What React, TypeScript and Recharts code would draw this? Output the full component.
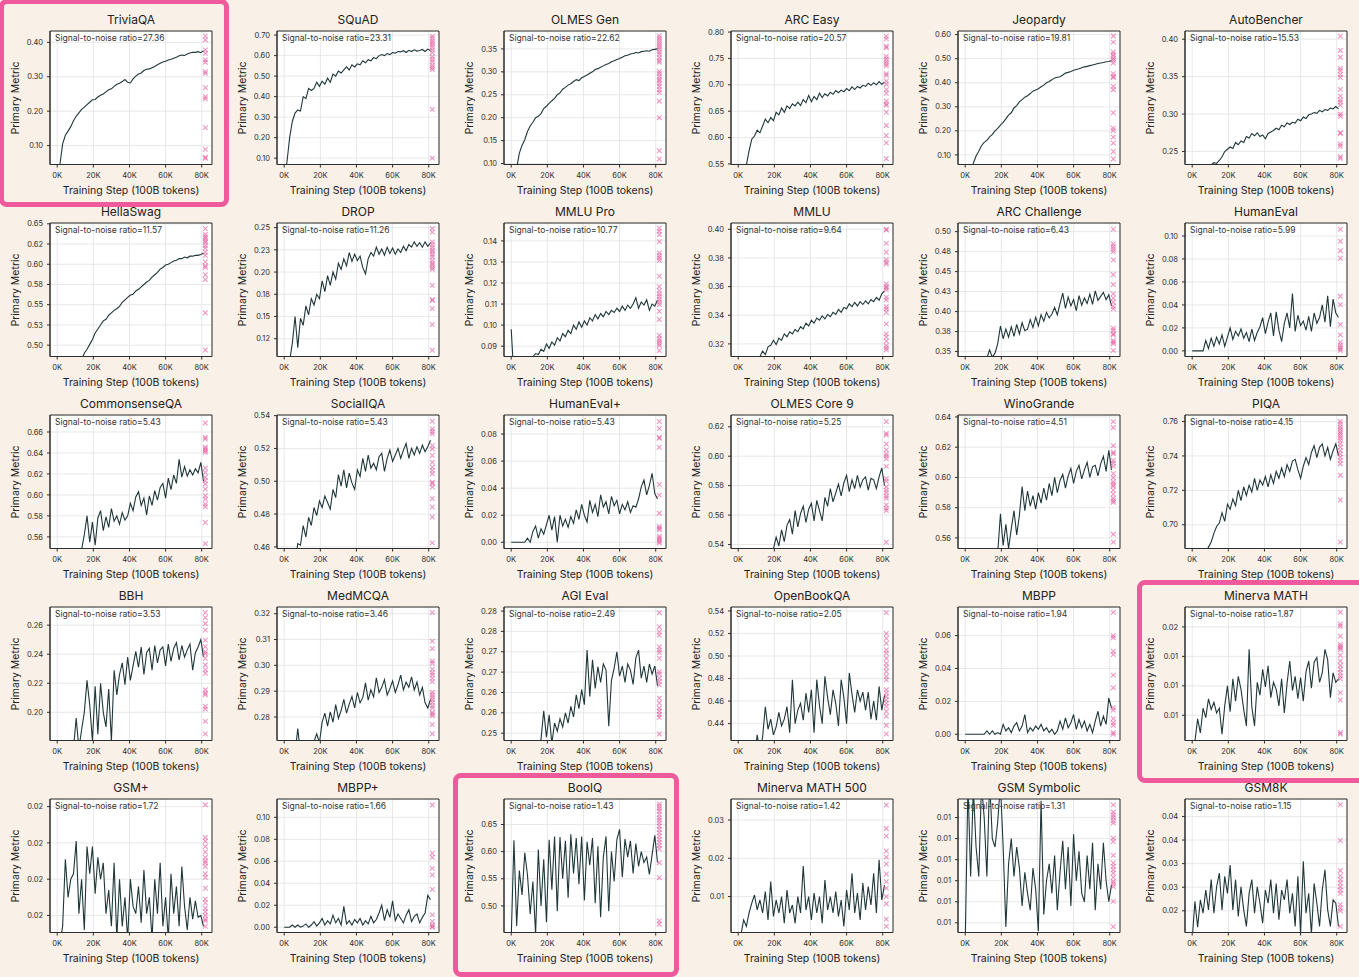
import React from 'react';
import { ComposedChart, Line, Scatter, XAxis, YAxis, CartesianGrid, ReferenceArea } from 'recharts';

// ---------- shared x data ----------
const STEPS = [
  0, 1500, 3000, 4500, 6000, 7500, 9000, 10500, 12000, 13500,
  15000, 16500, 18000, 19500, 21000, 22500, 24000, 25500, 27000, 28500,
  30000, 31500, 33000, 34500, 36000, 37500, 39000, 40500, 42000, 43500,
  45000, 46500, 48000, 49500, 51000, 52500, 54000, 55500, 57000, 58500,
  60000, 61500, 63000, 64500, 66000, 67500, 69000, 70500, 72000, 73500,
  75000, 76500, 78000, 79500, 81000,
];
const MARKER_STEP = 82000;
const X_TICKS = [0, 20000, 40000, 60000, 80000];
const X_TICK_LABELS = ['0K', '20K', '40K', '60K', '80K'];
const X_DOMAIN: [number, number] = [-4000, 85700];

// ---------- per-benchmark data ----------
const triviaQA = [
  0.0, 0.045, 0.105, 0.13, 0.142, 0.155, 0.172, 0.185, 0.195, 0.205,
  0.212, 0.219, 0.226, 0.233, 0.234, 0.241, 0.246, 0.25, 0.256, 0.262,
  0.265, 0.272, 0.278, 0.281, 0.286, 0.292, 0.284, 0.282, 0.294, 0.302,
  0.308, 0.311, 0.318, 0.322, 0.323, 0.326, 0.33, 0.335, 0.339, 0.343,
  0.345, 0.349, 0.351, 0.354, 0.357, 0.361, 0.363, 0.362, 0.366, 0.369,
  0.371, 0.371, 0.373, 0.37, 0.376,
];
const triviaQAMarks = [0.418, 0.407, 0.378, 0.368, 0.349, 0.342, 0.315, 0.31, 0.268, 0.242, 0.236, 0.152, 0.089, 0.066, 0.063];
const triviaQATicks = [0.1, 0.2, 0.3, 0.4];
const triviaQALabels = ['0.10', '0.20', '0.30', '0.40'];

const squad = [
  0.0, 0.08, 0.2, 0.28, 0.32, 0.335, 0.33, 0.4, 0.39, 0.44,
  0.43, 0.44, 0.47, 0.45, 0.475, 0.46, 0.49, 0.47, 0.51, 0.5,
  0.525, 0.515, 0.53, 0.545, 0.53, 0.555, 0.545, 0.56, 0.555, 0.575,
  0.565, 0.58, 0.575, 0.59, 0.585, 0.6, 0.605, 0.6, 0.61, 0.605,
  0.615, 0.612, 0.62, 0.618, 0.624, 0.615, 0.626, 0.62, 0.628, 0.622,
  0.625, 0.63, 0.62, 0.632, 0.625,
];
const squadMarks = [0.695, 0.684, 0.672, 0.662, 0.651, 0.64, 0.627, 0.614, 0.594, 0.581, 0.569, 0.553, 0.542, 0.532, 0.338, 0.1];
const squadTicks = [0.1, 0.2, 0.3, 0.4, 0.5, 0.6, 0.7];
const squadLabels = ['0.10', '0.20', '0.30', '0.40', '0.50', '0.60', '0.70'];

const olmesGen = [
  0.05, 0.07, 0.09, 0.123, 0.14, 0.152, 0.17, 0.182, 0.19, 0.2,
  0.203, 0.209, 0.22, 0.225, 0.231, 0.237, 0.242, 0.25, 0.254, 0.262,
  0.266, 0.271, 0.274, 0.279, 0.283, 0.281, 0.287, 0.29, 0.293, 0.297,
  0.3, 0.305, 0.307, 0.31, 0.313, 0.316, 0.318, 0.322, 0.324, 0.327,
  0.329, 0.332, 0.335, 0.336, 0.339, 0.34, 0.342, 0.341, 0.344, 0.345,
  0.346, 0.345, 0.348, 0.349, 0.35,
];
const olmesGenMarks = [0.379, 0.374, 0.369, 0.364, 0.359, 0.354, 0.349, 0.343, 0.338, 0.331, 0.325, 0.321, 0.301, 0.296, 0.29, 0.284, 0.28, 0.274, 0.268, 0.261, 0.255, 0.236, 0.2, 0.128, 0.11];
const olmesGenTicks = [0.1, 0.15, 0.2, 0.25, 0.3, 0.35];
const olmesGenLabels = ['0.10', '0.15', '0.20', '0.25', '0.30', '0.35'];

const arcEasy = [
  0.5, 0.51, 0.53, 0.548, 0.575, 0.597, 0.603, 0.614, 0.609, 0.622,
  0.635, 0.628, 0.638, 0.632, 0.648, 0.643, 0.656, 0.648, 0.66, 0.655,
  0.664, 0.66, 0.667, 0.661, 0.672, 0.666, 0.68, 0.668, 0.678, 0.672,
  0.684, 0.676, 0.683, 0.679, 0.686, 0.682, 0.689, 0.685, 0.69, 0.687,
  0.693, 0.689, 0.696, 0.691, 0.697, 0.694, 0.699, 0.697, 0.703, 0.699,
  0.704, 0.7, 0.706, 0.701, 0.705,
];
const arcEasyMarks = [0.792, 0.787, 0.773, 0.77, 0.754, 0.749, 0.744, 0.74, 0.736, 0.721, 0.718, 0.707, 0.701, 0.691, 0.684, 0.669, 0.664, 0.661, 0.648, 0.623, 0.604, 0.59, 0.56];
const arcEasyTicks = [0.55, 0.6, 0.65, 0.7, 0.75, 0.8];
const arcEasyLabels = ['0.55', '0.60', '0.65', '0.70', '0.75', '0.80'];

const jeopardy = [
  0.0, 0.02, 0.04, 0.065, 0.095, 0.115, 0.138, 0.152, 0.16, 0.175,
  0.185, 0.2, 0.21, 0.224, 0.235, 0.25, 0.265, 0.275, 0.295, 0.305,
  0.32, 0.33, 0.34, 0.346, 0.355, 0.365, 0.37, 0.375, 0.383, 0.39,
  0.4, 0.405, 0.412, 0.42, 0.423, 0.425, 0.432, 0.44, 0.443, 0.447,
  0.452, 0.455, 0.458, 0.462, 0.466, 0.468, 0.471, 0.474, 0.477, 0.48,
  0.482, 0.484, 0.487, 0.488, 0.492,
];
const jeopardyMarks = [0.594, 0.569, 0.528, 0.518, 0.51, 0.5, 0.493, 0.482, 0.438, 0.426, 0.421, 0.385, 0.371, 0.275, 0.211, 0.201, 0.174, 0.149, 0.114, 0.083];
const jeopardyTicks = [0.1, 0.2, 0.3, 0.4, 0.5, 0.6];
const jeopardyLabels = ['0.10', '0.20', '0.30', '0.40', '0.50', '0.60'];

const autoBencher = [
  0.2, 0.205, 0.21, 0.215, 0.22, 0.225, 0.228, 0.232, 0.235, 0.234,
  0.238, 0.243, 0.25, 0.253, 0.256, 0.254, 0.262, 0.259, 0.264, 0.262,
  0.27, 0.268, 0.274, 0.271, 0.275, 0.27, 0.272, 0.267, 0.274, 0.276,
  0.278, 0.281, 0.279, 0.285, 0.283, 0.288, 0.286, 0.289, 0.288, 0.293,
  0.291, 0.296, 0.294, 0.299, 0.3, 0.302, 0.301, 0.305, 0.303, 0.306,
  0.305, 0.308, 0.307, 0.31, 0.307,
];
const autoBencherMarks = [0.404, 0.385, 0.376, 0.361, 0.358, 0.353, 0.349, 0.333, 0.324, 0.319, 0.316, 0.312, 0.3, 0.297, 0.275, 0.274, 0.26, 0.257, 0.243, 0.241];
const autoBencherTicks = [0.25, 0.3, 0.35, 0.4];
const autoBencherLabels = ['0.25', '0.30', '0.35', '0.40'];

const hellaSwag = [
  0.4, 0.41, 0.42, 0.43, 0.44, 0.45, 0.46, 0.47, 0.475, 0.482,
  0.49, 0.495, 0.501, 0.507, 0.515, 0.52, 0.525, 0.53, 0.532, 0.537,
  0.54, 0.543, 0.545, 0.548, 0.553, 0.556, 0.559, 0.562, 0.563, 0.567,
  0.569, 0.572, 0.575, 0.578, 0.58, 0.584, 0.587, 0.59, 0.594, 0.596,
  0.599, 0.6, 0.602, 0.604, 0.605, 0.607, 0.607, 0.609, 0.608, 0.61,
  0.61, 0.611, 0.611, 0.612, 0.614,
];
const hellaSwagMarks = [0.644, 0.637, 0.634, 0.632, 0.629, 0.627, 0.623, 0.62, 0.615, 0.611, 0.603, 0.598, 0.596, 0.587, 0.581, 0.54, 0.494];
const hellaSwagTicks = [0.5, 0.525, 0.55, 0.575, 0.6, 0.625, 0.65];
const hellaSwagLabels = ['0.50', '0.53', '0.55', '0.58', '0.60', '0.62', '0.65'];

const drop = [
  0.08, 0.09, 0.1, 0.12, 0.15, 0.115, 0.148, 0.14, 0.162, 0.152,
  0.17, 0.163, 0.175, 0.17, 0.19, 0.178, 0.196, 0.185, 0.2, 0.192,
  0.21, 0.203, 0.215, 0.207, 0.222, 0.212, 0.22, 0.213, 0.218, 0.205,
  0.198, 0.215, 0.222, 0.218, 0.228, 0.22, 0.226, 0.219, 0.228, 0.221,
  0.227, 0.22, 0.226, 0.222, 0.229, 0.224, 0.231, 0.228, 0.234, 0.229,
  0.233, 0.228, 0.234, 0.229, 0.233,
];
const dropMarks = [0.249, 0.245, 0.234, 0.231, 0.228, 0.225, 0.223, 0.22, 0.217, 0.213, 0.21, 0.208, 0.205, 0.203, 0.185, 0.169, 0.168, 0.159, 0.141, 0.112];
const dropTicks = [0.125, 0.15, 0.175, 0.2, 0.225, 0.25];
const dropLabels = ['0.12', '0.15', '0.18', '0.20', '0.23', '0.25'];

const mmluPro = [
  0.098, 0.075, 0.076, 0.077, 0.078, 0.079, 0.08, 0.082, 0.085, 0.0865,
  0.086, 0.0885, 0.0875, 0.091, 0.089, 0.092, 0.0905, 0.094, 0.0925, 0.096,
  0.0945, 0.0975, 0.096, 0.1, 0.098, 0.1015, 0.099, 0.102, 0.1, 0.1035,
  0.102, 0.105, 0.103, 0.1055, 0.104, 0.1065, 0.105, 0.107, 0.106, 0.108,
  0.1065, 0.109, 0.107, 0.1095, 0.108, 0.11, 0.113, 0.108, 0.111, 0.1095,
  0.112, 0.107, 0.11, 0.109, 0.112,
];
const mmluProMarks = [0.146, 0.1446, 0.143, 0.1397, 0.1343, 0.133, 0.1319, 0.1307, 0.1232, 0.1183, 0.1164, 0.1148, 0.1136, 0.1122, 0.1109, 0.1098, 0.1066, 0.1027, 0.0951, 0.0935, 0.0924, 0.0914, 0.0903, 0.0879];
const mmluProTicks = [0.09, 0.1, 0.11, 0.12, 0.13, 0.14];
const mmluProLabels = ['0.09', '0.10', '0.11', '0.12', '0.13', '0.14'];

const mmlu = [
  0.29, 0.292, 0.294, 0.296, 0.298, 0.3, 0.303, 0.306, 0.311, 0.315,
  0.3125, 0.318, 0.319, 0.3225, 0.3195, 0.324, 0.3225, 0.327, 0.325, 0.3285,
  0.327, 0.33, 0.3285, 0.332, 0.3305, 0.3345, 0.3325, 0.3365, 0.3345, 0.338,
  0.3365, 0.3395, 0.3375, 0.3405, 0.339, 0.342, 0.3405, 0.344, 0.342, 0.3455,
  0.3445, 0.348, 0.346, 0.349, 0.3465, 0.3495, 0.3475, 0.35, 0.348, 0.351,
  0.3495, 0.3525, 0.3505, 0.355, 0.357,
];
const mmluMarks = [0.4, 0.3995, 0.3902, 0.384, 0.3788, 0.377, 0.3758, 0.3619, 0.36, 0.3591, 0.3577, 0.3526, 0.3507, 0.346, 0.3444, 0.3421, 0.334, 0.327, 0.3247, 0.3219, 0.3188, 0.3172, 0.3158];
const mmluTicks = [0.32, 0.34, 0.36, 0.38, 0.4];
const mmluLabels = ['0.32', '0.34', '0.36', '0.38', '0.40'];

const arcChallenge = [
  0.3, 0.305, 0.31, 0.315, 0.32, 0.325, 0.33, 0.335, 0.342, 0.352,
  0.343, 0.348, 0.36, 0.382, 0.366, 0.378, 0.368, 0.381, 0.369, 0.384,
  0.372, 0.386, 0.376, 0.378, 0.39, 0.38, 0.393, 0.382, 0.396, 0.388,
  0.399, 0.392, 0.397, 0.405, 0.396, 0.41, 0.423, 0.404, 0.418, 0.407,
  0.415, 0.401, 0.42, 0.408, 0.417, 0.41, 0.422, 0.409, 0.426, 0.414,
  0.419, 0.424, 0.415, 0.421, 0.407,
];
const arcChallengeMarks = [0.503, 0.4846, 0.4813, 0.4783, 0.475, 0.4646, 0.4463, 0.4338, 0.4221, 0.4167, 0.4117, 0.4067, 0.4033, 0.3792, 0.3763, 0.3721, 0.3708, 0.3638, 0.3617, 0.3596, 0.3513];
const arcChallengeTicks = [0.35, 0.375, 0.4, 0.425, 0.45, 0.475, 0.5];
const arcChallengeLabels = ['0.35', '0.38', '0.40', '0.43', '0.45', '0.48', '0.50'];

const humanEval = [
  0, 0, 0, 0, 0, 0.009, 0.002, 0.011, 0.004, 0.012,
  0.006, 0.014, 0.004, 0.012, 0.02, 0.01, 0.017, 0.013, 0.019, 0.011,
  0.016, 0.008, 0.019, 0.009, 0.016, 0.021, 0.029, 0.015, 0.025, 0.033,
  0.013, 0.034, 0.018, 0.008, 0.024, 0.033, 0.02, 0.05, 0.017, 0.031,
  0.022, 0.026, 0.018, 0.03, 0.017, 0.033, 0.024, 0.029, 0.04, 0.025,
  0.048, 0.021, 0.045, 0.033, 0.029,
];
const humanEvalMarks = [0.1058, 0.0954, 0.0872, 0.0806, 0.0475, 0.0403, 0.0229, 0.0139, 0.0075, 0.0052, 0.0032, 0.0017, 0.0003];
const humanEvalTicks = [0, 0.02, 0.04, 0.06, 0.08, 0.1];
const humanEvalLabels = ['0.00', '0.02', '0.04', '0.06', '0.08', '0.10'];

const commonsenseQA = [
  0.5, 0.505, 0.51, 0.515, 0.52, 0.525, 0.53, 0.535, 0.54, 0.548,
  0.562, 0.58, 0.555, 0.574, 0.552, 0.578, 0.585, 0.566, 0.579, 0.569,
  0.587, 0.575, 0.58, 0.572, 0.583, 0.576, 0.58, 0.592, 0.585, 0.598,
  0.603, 0.59, 0.597, 0.581, 0.599, 0.59, 0.604, 0.595, 0.607, 0.611,
  0.597, 0.616, 0.605, 0.619, 0.611, 0.634, 0.617, 0.627, 0.618, 0.624,
  0.619, 0.625, 0.621, 0.631, 0.613,
];
const commonsenseQAMarks = [0.6686, 0.6549, 0.6533, 0.6454, 0.6438, 0.6422, 0.6406, 0.6256, 0.6215, 0.6167, 0.6135, 0.6104, 0.6055, 0.5992, 0.596, 0.5912, 0.5887, 0.5737, 0.5536];
const commonsenseQATicks = [0.56, 0.58, 0.6, 0.62, 0.64, 0.66];
const commonsenseQALabels = ['0.56', '0.58', '0.60', '0.62', '0.64', '0.66'];

const socialIQA = [
  0.44, 0.442, 0.444, 0.446, 0.45, 0.462, 0.461, 0.473, 0.466, 0.478,
  0.473, 0.484, 0.479, 0.488, 0.484, 0.491, 0.487, 0.483, 0.495, 0.49,
  0.504, 0.497, 0.507, 0.496, 0.505, 0.499, 0.495, 0.507, 0.503, 0.514,
  0.506, 0.516, 0.508, 0.511, 0.507, 0.515, 0.517, 0.506, 0.514, 0.519,
  0.512, 0.516, 0.52, 0.514, 0.519, 0.523, 0.514, 0.52, 0.516, 0.521,
  0.517, 0.522, 0.518, 0.521, 0.525,
];
const socialIQAMarks = [0.5366, 0.5319, 0.5303, 0.5289, 0.5218, 0.5197, 0.5157, 0.5116, 0.5086, 0.5066, 0.5046, 0.4995, 0.4985, 0.4965, 0.4894, 0.4843, 0.4782, 0.4624];
const socialIQATicks = [0.46, 0.48, 0.5, 0.52, 0.54];
const socialIQALabels = ['0.46', '0.48', '0.50', '0.52', '0.54'];

const humanEvalPlus = [
  0, 0, 0, 0, 0, 0, 0.003, 0, 0.008, 0.012,
  0.003, 0.01, 0.006, 0.013, 0.02, 0.009, 0.019, 0.0, 0.02, 0.012,
  0.017, 0.011, 0.019, 0.014, 0.024, 0.017, 0.028, 0.02, 0.015, 0.031,
  0.022, 0.028, 0.019, 0.035, 0.026, 0.03, 0.021, 0.034, 0.027, 0.031,
  0.021, 0.028, 0.024, 0.03, 0.022, 0.027, 0.026, 0.032, 0.041, 0.046,
  0.035, 0.042, 0.051, 0.036, 0.032,
];
const humanEvalPlusMarks = [0.0893, 0.0841, 0.0776, 0.0768, 0.0702, 0.0427, 0.0349, 0.0215, 0.0117, 0.0105, 0.0093, 0.0044, 0.0032, 0.002, 0.0007, -0.0005];
const humanEvalPlusTicks = [0, 0.02, 0.04, 0.06, 0.08];
const humanEvalPlusLabels = ['0.00', '0.02', '0.04', '0.06', '0.08'];

const olmesCore9 = [
  0.5, 0.502, 0.505, 0.507, 0.51, 0.512, 0.515, 0.518, 0.52, 0.523,
  0.526, 0.53, 0.532, 0.537, 0.545, 0.539, 0.55, 0.542, 0.553, 0.557,
  0.547, 0.563, 0.552, 0.561, 0.566, 0.555, 0.564, 0.568, 0.556, 0.57,
  0.563, 0.556, 0.572, 0.566, 0.578, 0.569, 0.575, 0.581, 0.573, 0.582,
  0.587, 0.576, 0.584, 0.578, 0.587, 0.579, 0.584, 0.586, 0.577, 0.585,
  0.584, 0.578, 0.586, 0.592, 0.58,
];
const olmesCore9Marks = [0.6236, 0.6155, 0.6144, 0.6083, 0.6043, 0.6016, 0.6001, 0.5983, 0.5931, 0.5848, 0.583, 0.5792, 0.577, 0.5752, 0.5729, 0.5714, 0.5669, 0.5646, 0.5631, 0.5416];
const olmesCore9Ticks = [0.54, 0.56, 0.58, 0.6, 0.62];
const olmesCore9Labels = ['0.54', '0.56', '0.58', '0.60', '0.62'];

const winoGrande = [
  0.5, 0.505, 0.51, 0.515, 0.52, 0.525, 0.53, 0.535, 0.54, 0.542,
  0.545, 0.548, 0.55, 0.576, 0.555, 0.569, 0.553, 0.566, 0.578, 0.562,
  0.575, 0.594, 0.578, 0.591, 0.581, 0.588, 0.579, 0.59, 0.583, 0.593,
  0.585, 0.596, 0.588, 0.6, 0.59, 0.598, 0.602, 0.593, 0.601, 0.606,
  0.596, 0.604, 0.608, 0.599, 0.605, 0.61, 0.6, 0.607, 0.608, 0.601,
  0.609, 0.614, 0.604, 0.618, 0.605,
];
const winoGrandeMarks = [0.6369, 0.633, 0.621, 0.6167, 0.6156, 0.6112, 0.6095, 0.6073, 0.6025, 0.5999, 0.5971, 0.5955, 0.5942, 0.5916, 0.589, 0.5862, 0.5846, 0.5835, 0.5624, 0.5572];
const winoGrandeTicks = [0.56, 0.58, 0.6, 0.62, 0.64];
const winoGrandeLabels = ['0.56', '0.58', '0.60', '0.62', '0.64'];

const piqa = [
  0.66, 0.665, 0.67, 0.675, 0.68, 0.684, 0.687, 0.69, 0.695, 0.699,
  0.701, 0.707, 0.702, 0.712, 0.709, 0.715, 0.711, 0.72, 0.714, 0.722,
  0.717, 0.723, 0.719, 0.727, 0.72, 0.726, 0.723, 0.728, 0.722, 0.729,
  0.724, 0.731, 0.727, 0.733, 0.728, 0.735, 0.731, 0.737, 0.738, 0.732,
  0.727, 0.734, 0.739, 0.735, 0.742, 0.746, 0.739, 0.745, 0.747, 0.74,
  0.745, 0.738, 0.743, 0.747, 0.74,
];
const piqaMarks = [0.76, 0.7585, 0.7569, 0.7556, 0.7542, 0.7531, 0.7518, 0.7504, 0.7489, 0.747, 0.7451, 0.7431, 0.7412, 0.7393, 0.7374, 0.7355, 0.7288, 0.7144, 0.6899];
const piqaTicks = [0.7, 0.72, 0.74, 0.76];
const piqaLabels = ['0.70', '0.72', '0.74', '0.76'];

const bbh = [
  0.17, 0.17, 0.17, 0.17, 0.17, 0.17, 0.175, 0.196, 0.175, 0.188,
  0.2, 0.222, 0.205, 0.18, 0.218, 0.185, 0.22, 0.2, 0.19, 0.216,
  0.18, 0.229, 0.212, 0.226, 0.234, 0.219, 0.238, 0.222, 0.232, 0.242,
  0.231, 0.245, 0.226, 0.241, 0.244, 0.229, 0.246, 0.234, 0.243, 0.245,
  0.232, 0.247, 0.235, 0.244, 0.248, 0.236, 0.246, 0.238, 0.243, 0.247,
  0.229, 0.241, 0.245, 0.25, 0.238,
];
const bbhMarks = [0.2687, 0.2652, 0.2611, 0.2566, 0.2497, 0.2452, 0.2417, 0.2402, 0.2372, 0.2326, 0.2292, 0.2269, 0.2155, 0.2132, 0.2121, 0.2041, 0.2023, 0.1938, 0.1852];
const bbhTicks = [0.2, 0.22, 0.24, 0.26];
const bbhLabels = ['0.20', '0.22', '0.24', '0.26'];

const medMCQA = [
  0.265, 0.265, 0.265, 0.265, 0.266, 0.2755, 0.266, 0.266, 0.267, 0.268,
  0.269, 0.2705, 0.2735, 0.27, 0.278, 0.2815, 0.2765, 0.282, 0.278, 0.2848,
  0.2795, 0.2825, 0.2868, 0.2815, 0.285, 0.288, 0.2835, 0.2895, 0.2855, 0.2875,
  0.2932, 0.2865, 0.2905, 0.2878, 0.2952, 0.2895, 0.2915, 0.2945, 0.2885, 0.291,
  0.294, 0.2895, 0.2925, 0.2962, 0.2905, 0.2935, 0.2915, 0.2955, 0.2905, 0.2935,
  0.2885, 0.2915, 0.2855, 0.2835, 0.2868,
];
const medMCQAMarks = [0.3204, 0.3094, 0.3065, 0.3017, 0.3008, 0.2985, 0.2972, 0.2963, 0.295, 0.2937, 0.2896, 0.2886, 0.2877, 0.2867, 0.2856, 0.2844, 0.2835, 0.2818, 0.2812, 0.2805, 0.2771, 0.2735];
const medMCQATicks = [0.28, 0.29, 0.3, 0.31, 0.32];
const medMCQALabels = ['0.28', '0.29', '0.30', '0.31', '0.32'];

const agiEval = [
  0.24, 0.24, 0.24, 0.24, 0.24, 0.24, 0.242, 0.243, 0.244, 0.245,
  0.247, 0.2485, 0.2555, 0.249, 0.2545, 0.2475, 0.2525, 0.2505, 0.2535, 0.2515,
  0.255, 0.2525, 0.2566, 0.254, 0.2594, 0.256, 0.2607, 0.257, 0.2704, 0.259,
  0.268, 0.261, 0.2663, 0.2625, 0.267, 0.2655, 0.2517, 0.263, 0.266, 0.27,
  0.264, 0.2665, 0.2625, 0.267, 0.2655, 0.262, 0.2685, 0.2704, 0.2635, 0.2665,
  0.2625, 0.267, 0.2645, 0.2665, 0.2617,
];
const agiEvalMarks = [0.2796, 0.2761, 0.2749, 0.2741, 0.2712, 0.2704, 0.2698, 0.2684, 0.2651, 0.2645, 0.2635, 0.2627, 0.2619, 0.2586, 0.2574, 0.2562, 0.2554, 0.2546, 0.2539, 0.2498];
const agiEvalTicks = [0.25, 0.255, 0.26, 0.265, 0.27, 0.275, 0.28];
const agiEvalLabels = ['0.25', '0.26', '0.26', '0.27', '0.27', '0.28', '0.28'];

const openBookQA = [
  0.4, 0.4, 0.4, 0.4, 0.4, 0.405, 0.41, 0.43, 0.415, 0.428,
  0.455, 0.435, 0.444, 0.43, 0.437, 0.45, 0.438, 0.444, 0.455, 0.432,
  0.479, 0.44, 0.452, 0.458, 0.443, 0.467, 0.45, 0.47, 0.432, 0.479,
  0.456, 0.44, 0.482, 0.463, 0.448, 0.47, 0.458, 0.438, 0.479, 0.463,
  0.44, 0.485, 0.466, 0.45, 0.47, 0.46, 0.468, 0.452, 0.468, 0.444,
  0.46, 0.443, 0.473, 0.452, 0.465,
];
const openBookQAMarks = [0.5385, 0.52, 0.5156, 0.5112, 0.5053, 0.5024, 0.4979, 0.4935, 0.49, 0.4862, 0.4818, 0.4788, 0.47, 0.4671, 0.4641, 0.4612, 0.4582, 0.4553, 0.4509, 0.4465, 0.4385, 0.4309];
const openBookQATicks = [0.44, 0.46, 0.48, 0.5, 0.52, 0.54];
const openBookQALabels = ['0.44', '0.46', '0.48', '0.50', '0.52', '0.54'];

const mbpp = [
  0, 0, 0, 0, 0, 0, 0, 0, 0.002, 0,
  0.002, 0, 0.001, 0, 0.006, 0.002, 0.004, 0.001, 0.005, 0.007,
  0.002, 0.005, 0.012, 0.001, 0.004, 0.002, 0.005, 0.003, 0.006, 0.002,
  0.004, 0.001, 0.003, 0, 0.002, 0.008, 0.003, 0.01, 0.004, 0.007,
  0.012, 0.003, 0.009, 0.004, 0.008, 0.002, 0.006, 0.001, 0.008, 0.014,
  0.005, 0.011, 0.006, 0.022, 0.016,
];
const mbppMarks = [0.0741, 0.06, 0.0586, 0.0505, 0.0485, 0.036, 0.0283, 0.0162, 0.0147, 0.0095, 0.0071, 0.0055, 0.001, 0.0];
const mbppTicks = [0, 0.02, 0.04, 0.06];
const mbppLabels = ['0.00', '0.02', '0.04', '0.06'];

const minervaMath = [
  0.0075, 0.0078, 0.0097, 0.0085, 0.0106, 0.0098, 0.0114, 0.0105, 0.0111, 0.0102,
  0.0106, 0.0084, 0.0108, 0.0125, 0.0103, 0.0131, 0.0112, 0.0133, 0.0122, 0.0105,
  0.0091, 0.0156, 0.0107, 0.0091, 0.0128, 0.0117, 0.0139, 0.0124, 0.0142, 0.0115,
  0.0128, 0.0122, 0.0108, 0.0131, 0.0102, 0.0127, 0.0146, 0.0121, 0.0133, 0.0114,
  0.0132, 0.0112, 0.0137, 0.0146, 0.0123, 0.0145, 0.0149, 0.0128, 0.0136, 0.0156,
  0.0147, 0.0115, 0.0136, 0.0128, 0.0131,
];
const minervaMathMarks = [0.01874, 0.01775, 0.01756, 0.01671, 0.01601, 0.01586, 0.01572, 0.01558, 0.01508, 0.0146, 0.01423, 0.01389, 0.01361, 0.01333, 0.0131, 0.01192, 0.0113, 0.00854, 0.0084];
const minervaMathTicks = [0.01, 0.0125, 0.015, 0.0175];
const minervaMathLabels = ['0.01', '0.01', '0.01', '0.02'];

const gsmPlus = [
  0.014, 0.0145, 0.0154, 0.0191, 0.017, 0.018, 0.0183, 0.0201, 0.0161, 0.018,
  0.0152, 0.0198, 0.0183, 0.0198, 0.0172, 0.0192, 0.018, 0.0189, 0.0161, 0.0174,
  0.0154, 0.0189, 0.0147, 0.018, 0.0154, 0.017, 0.0147, 0.018, 0.0165, 0.0161,
  0.0176, 0.0156, 0.0185, 0.0161, 0.017, 0.0147, 0.018, 0.0161, 0.0189, 0.0154,
  0.017, 0.0147, 0.0183, 0.0161, 0.0176, 0.0154, 0.0187, 0.0165, 0.0152, 0.017,
  0.0158, 0.0168, 0.0159, 0.016, 0.0154,
];
const gsmPlusMarks = [0.0221, 0.0203, 0.0201, 0.0198, 0.0195, 0.0192, 0.019, 0.0189, 0.0187, 0.0183, 0.0181, 0.0175, 0.0169, 0.0167, 0.0164, 0.0162, 0.016, 0.0158, 0.0157, 0.0154];
const gsmPlusTicks = [0.016, 0.018, 0.02, 0.022];
const gsmPlusLabels = ['0.02', '0.02', '0.02', '0.02'];

const mbppPlus = [
  0, 0, 0, 0.002, 0, 0.002, 0, 0.001, 0.003, 0,
  0.002, 0.005, 0.001, 0.004, 0.008, 0.002, 0.006, 0.003, 0.011, 0.004,
  0.008, 0.002, 0.019, 0.003, 0.006, 0.002, 0.007, 0.004, 0.008, 0.002,
  0.006, 0.003, 0.01, 0.004, 0.007, 0.013, 0.02, 0.006, 0.016, 0.009,
  0.024, 0.006, 0.012, 0.008, 0.004, 0.011, 0.016, 0.005, 0.01, 0.012,
  0.004, 0.009, 0.013, 0.029, 0.025,
];
const mbppPlusMarks = [0.1112, 0.0673, 0.0636, 0.0536, 0.0476, 0.0345, 0.0112, 0.0052, 0.0021, 0.0006, 0.0];
const mbppPlusTicks = [0, 0.02, 0.04, 0.06, 0.08, 0.1];
const mbppPlusLabels = ['0.00', '0.02', '0.04', '0.06', '0.08', '0.10'];

const boolQ = [
  0.44, 0.621, 0.463, 0.565, 0.52, 0.598, 0.557, 0.485, 0.545, 0.448,
  0.604, 0.5, 0.586, 0.47, 0.622, 0.53, 0.628, 0.49, 0.627, 0.55,
  0.62, 0.515, 0.632, 0.56, 0.625, 0.54, 0.628, 0.51, 0.618, 0.575,
  0.625, 0.505, 0.61, 0.479, 0.59, 0.628, 0.49, 0.6, 0.545, 0.622,
  0.641, 0.553, 0.623, 0.59, 0.62, 0.56, 0.615, 0.573, 0.6, 0.58,
  0.59, 0.558, 0.594, 0.63, 0.58,
];
const boolQMarks = [0.688, 0.6837, 0.6794, 0.6745, 0.6684, 0.6622, 0.658, 0.6531, 0.6469, 0.6408, 0.6347, 0.6286, 0.6225, 0.6175, 0.6114, 0.6053, 0.5796, 0.552, 0.4724, 0.4663];
const boolQTicks = [0.5, 0.55, 0.6, 0.65];
const boolQLabels = ['0.50', '0.55', '0.60', '0.65'];

const minerva500 = [
  0.0, 0.0, 0.0039, 0.0022, 0.0057, 0.0083, 0.0104, 0.0065, 0.0091, 0.0057,
  0.0113, 0.0039, 0.0139, 0.0048, 0.0091, 0.0057, 0.01, 0.003, 0.0117, 0.0057,
  0.0078, 0.003, 0.01, 0.0057, 0.018, 0.0065, 0.01, 0.0039, 0.0109, 0.0057,
  0.01, 0.003, 0.0143, 0.0065, 0.01, 0.0057, 0.0113, 0.0048, 0.0091, 0.0022,
  0.0117, 0.0065, 0.0161, 0.0057, 0.0109, 0.0039, 0.0135, 0.0065, 0.0126, 0.0078,
  0.0161, 0.0057, 0.0196, 0.0091, 0.013,
];
const minerva500Marks = [0.0339, 0.0278, 0.0258, 0.0219, 0.0203, 0.0185, 0.0159, 0.0139, 0.0122, 0.01, 0.0081, 0.0041, 0.0022];
const minerva500Ticks = [0.01, 0.02, 0.03];
const minerva500Labels = ['0.01', '0.02', '0.03'];

const gsmSymbolic = [
  0.0075, 0.0113, 0.0091, 0.0112, 0.0098, 0.0091, 0.0113, 0.0105, 0.0091, 0.0114,
  0.01, 0.0098, 0.0104, 0.0113, 0.0098, 0.0079, 0.0094, 0.01, 0.0091, 0.0098,
  0.0093, 0.0084, 0.0092, 0.0087, 0.0083, 0.0093, 0.0088, 0.0078, 0.0109, 0.0082,
  0.009, 0.0094, 0.0087, 0.0096, 0.0083, 0.0092, 0.00995, 0.0088, 0.0098, 0.0084,
  0.0101, 0.009, 0.0097, 0.0087, 0.0085, 0.0096, 0.0088, 0.0099, 0.0083, 0.0094,
  0.0088, 0.0099, 0.009, 0.0085, 0.0089,
];
const gsmSymbolicMarks = [0.0108, 0.01063, 0.01056, 0.0105, 0.01043, 0.01037, 0.01001, 0.00993, 0.0096, 0.00942, 0.00934, 0.00926, 0.00918, 0.00908, 0.00898, 0.00893, 0.00886, 0.00851, 0.00791];
const gsmSymbolicTicks = [0.008, 0.0085, 0.009, 0.0095, 0.01, 0.0105];
const gsmSymbolicLabels = ['0.01', '0.01', '0.01', '0.01', '0.01', '0.01'];

const gsm8k = [
  0.014, 0.022, 0.0165, 0.0223, 0.0195, 0.0244, 0.0202, 0.0266, 0.0195, 0.0251,
  0.028, 0.0202, 0.0273, 0.0237, 0.0297, 0.0202, 0.0266, 0.0188, 0.0251, 0.0202,
  0.0167, 0.0237, 0.0266, 0.0195, 0.0251, 0.0216, 0.0174, 0.0244, 0.0216, 0.0266,
  0.0195, 0.0258, 0.0181, 0.0244, 0.0223, 0.0266, 0.0195, 0.0237, 0.0167, 0.0273,
  0.015, 0.0305, 0.0195, 0.0237, 0.015, 0.0258, 0.0216, 0.0167, 0.0244, 0.0287,
  0.0202, 0.0167, 0.0223, 0.0216, 0.0167,
];
const gsm8kMarks = [0.0425, 0.0349, 0.0285, 0.0274, 0.0266, 0.0259, 0.0251, 0.0244, 0.0237, 0.0213, 0.0206, 0.02, 0.0167];
const gsm8kTicks = [0.02, 0.025, 0.03, 0.035, 0.04];
const gsm8kLabels = ['0.02', '0.03', '0.03', '0.04', '0.04'];

type PanelSpec = {
  title: string; snr: string; values: number[]; marks: number[];
  ticks: number[]; labels: string[]; domain: [number, number];
};

const PANELS: PanelSpec[] = [
  { title: 'TriviaQA', snr: '27.36', values: triviaQA, marks: triviaQAMarks, ticks: triviaQATicks, labels: triviaQALabels, domain: [0.045, 0.433] },
  { title: 'SQuAD', snr: '23.31', values: squad, marks: squadMarks, ticks: squadTicks, labels: squadLabels, domain: [0.069, 0.72] },
  { title: 'OLMES Gen', snr: '22.62', values: olmesGen, marks: olmesGenMarks, ticks: olmesGenTicks, labels: olmesGenLabels, domain: [0.098, 0.389] },
  { title: 'ARC Easy', snr: '20.57', values: arcEasy, marks: arcEasyMarks, ticks: arcEasyTicks, labels: arcEasyLabels, domain: [0.549, 0.802] },
  { title: 'Jeopardy', snr: '19.81', values: jeopardy, marks: jeopardyMarks, ticks: jeopardyTicks, labels: jeopardyLabels, domain: [0.06, 0.615] },
  { title: 'AutoBencher', snr: '15.53', values: autoBencher, marks: autoBencherMarks, ticks: autoBencherTicks, labels: autoBencherLabels, domain: [0.2326, 0.411] },
  { title: 'HellaSwag', snr: '11.57', values: hellaSwag, marks: hellaSwagMarks, ticks: hellaSwagTicks, labels: hellaSwagLabels, domain: [0.486, 0.651] },
  { title: 'DROP', snr: '11.26', values: drop, marks: dropMarks, ticks: dropTicks, labels: dropLabels, domain: [0.105, 0.2552] },
  { title: 'MMLU Pro', snr: '10.77', values: mmluPro, marks: mmluProMarks, ticks: mmluProTicks, labels: mmluProLabels, domain: [0.0851, 0.1485] },
  { title: 'MMLU', snr: '9.64', values: mmlu, marks: mmluMarks, ticks: mmluTicks, labels: mmluLabels, domain: [0.3112, 0.4044] },
  { title: 'ARC Challenge', snr: '6.43', values: arcChallenge, marks: arcChallengeMarks, ticks: arcChallengeTicks, labels: arcChallengeLabels, domain: [0.3438, 0.5108] },
  { title: 'HumanEval', snr: '5.99', values: humanEval, marks: humanEvalMarks, ticks: humanEvalTicks, labels: humanEvalLabels, domain: [-0.0049, 0.1113] },
  { title: 'CommonsenseQA', snr: '5.43', values: commonsenseQA, marks: commonsenseQAMarks, ticks: commonsenseQATicks, labels: commonsenseQALabels, domain: [0.5489, 0.6762] },
  { title: 'SocialIQA', snr: '5.43', values: socialIQA, marks: socialIQAMarks, ticks: socialIQATicks, labels: socialIQALabels, domain: [0.459, 0.5404] },
  { title: 'HumanEval+', snr: '5.43', values: humanEvalPlus, marks: humanEvalPlusMarks, ticks: humanEvalPlusTicks, labels: humanEvalPlusLabels, domain: [-0.0046, 0.0941] },
  { title: 'OLMES Core 9', snr: '5.25', values: olmesCore9, marks: olmesCore9Marks, ticks: olmesCore9Ticks, labels: olmesCore9Labels, domain: [0.5373, 0.628] },
  { title: 'WinoGrande', snr: '4.51', values: winoGrande, marks: winoGrandeMarks, ticks: winoGrandeTicks, labels: winoGrandeLabels, domain: [0.553, 0.6413] },
  { title: 'PIQA', snr: '4.15', values: piqa, marks: piqaMarks, ticks: piqaTicks, labels: piqaLabels, domain: [0.6862, 0.7638] },
  { title: 'BBH', snr: '3.53', values: bbh, marks: bbhMarks, ticks: bbhTicks, labels: bbhLabels, domain: [0.1806, 0.2725] },
  { title: 'MedMCQA', snr: '3.46', values: medMCQA, marks: medMCQAMarks, ticks: medMCQATicks, labels: medMCQALabels, domain: [0.2709, 0.3226] },
  { title: 'AGI Eval', snr: '2.49', values: agiEval, marks: agiEvalMarks, ticks: agiEvalTicks, labels: agiEvalLabels, domain: [0.2482, 0.281] },
  { title: 'OpenBookQA', snr: '2.05', values: openBookQA, marks: openBookQAMarks, ticks: openBookQATicks, labels: openBookQALabels, domain: [0.425, 0.5435] },
  { title: 'MBPP', snr: '1.94', values: mbpp, marks: mbppMarks, ticks: mbppTicks, labels: mbppLabels, domain: [-0.0038, 0.0774] },
  { title: 'Minerva MATH', snr: '1.87', values: minervaMath, marks: minervaMathMarks, ticks: minervaMathTicks, labels: minervaMathLabels, domain: [0.00786, 0.01919] },
  { title: 'GSM+', snr: '1.72', values: gsmPlus, marks: gsmPlusMarks, ticks: gsmPlusTicks, labels: gsmPlusLabels, domain: [0.01506, 0.02242] },
  { title: 'MBPP+', snr: '1.66', values: mbppPlus, marks: mbppPlusMarks, ticks: mbppPlusTicks, labels: mbppPlusLabels, domain: [-0.0048, 0.1167] },
  { title: 'BoolQ', snr: '1.43', values: boolQ, marks: boolQMarks, ticks: boolQTicks, labels: boolQLabels, domain: [0.451, 0.697] },
  { title: 'Minerva MATH 500', snr: '1.42', values: minerva500, marks: minerva500Marks, ticks: minerva500Ticks, labels: minerva500Labels, domain: [0.0006, 0.0355] },
  { title: 'GSM Symbolic', snr: '1.31', values: gsmSymbolic, marks: gsmSymbolicMarks, ticks: gsmSymbolicTicks, labels: gsmSymbolicLabels, domain: [0.00777, 0.01094] },
  { title: 'GSM8K', snr: '1.15', values: gsm8k, marks: gsm8kMarks, ticks: gsm8kTicks, labels: gsm8kLabels, domain: [0.0154, 0.0437] },
];

const HIGHLIGHTED = ['TriviaQA', 'Minerva MATH', 'BoolQ'];

// ---------- layout / style ----------
const FONT = "Inter, 'DejaVu Sans', sans-serif";
const INK = '#2e2e2e';
const LINE_COLOR = '#1f3739';
const PINK = '#e2509a';
const BG = '#f9f0e7';
const CELL_W = 227;
const CELL_H = 192;
const CHART_H = 200;
const PLOT_TOP = 31;
const AXIS_W = 50;
const RIGHT_PAD = 15;
const X_AXIS_H = 35.5;
const PLOT_W = CELL_W - AXIS_W - RIGHT_PAD;
const PLOT_H = CHART_H - PLOT_TOP - X_AXIS_H;

function XMark(props: any) {
  const { cx, cy } = props;
  if (cx == null || cy == null || isNaN(cx) || isNaN(cy)) return null;
  const r = 2.3;
  return (
    <path
      d={`M${cx - r},${cy - r}L${cx + r},${cy + r}M${cx - r},${cy + r}L${cx + r},${cy - r}`}
      stroke={PINK}
      strokeOpacity={0.6}
      strokeWidth={1.1}
      fill="none"
    />
  );
}

function Panel({ p, index }: { p: PanelSpec; index: number }) {
  const col = index % 6;
  const row = Math.floor(index / 6);
  const lineData = STEPS.map((x, i) => ({ x, y: p.values[i] })).filter((d) => d.y !== undefined);
  const markData = p.marks.map((y) => ({ x: MARKER_STEP, y }));
  const fmtY = (v: number) => {
    const k = p.ticks.findIndex((t) => Math.abs(t - v) < 1e-9);
    return k >= 0 ? p.labels[k] : '';
  };
  const fmtX = (v: number) => {
    const k = X_TICKS.indexOf(v);
    return k >= 0 ? X_TICK_LABELS[k] : '';
  };
  return (
    <div style={{ position: 'absolute', left: col * CELL_W, top: row * CELL_H, width: CELL_W, height: CHART_H }}>
      <ComposedChart width={CELL_W} height={CHART_H} margin={{ top: PLOT_TOP, right: RIGHT_PAD, bottom: 0, left: 0 }}>
        <CartesianGrid fill="#ffffff" stroke="#e2e2e2" strokeWidth={0.8} />
        <XAxis
          type="number"
          dataKey="x"
          domain={X_DOMAIN}
          ticks={X_TICKS}
          interval={0}
          allowDataOverflow
          tickFormatter={fmtX}
          height={X_AXIS_H}
          tickSize={3}
          tickMargin={5}
          stroke={INK}
          tick={{ fontSize: 7.5, fill: INK, fontFamily: FONT }}
        />
        <YAxis
          type="number"
          dataKey="y"
          domain={p.domain}
          ticks={p.ticks}
          interval={0}
          allowDataOverflow
          tickFormatter={fmtY}
          width={AXIS_W}
          tickSize={3}
          tickMargin={4}
          stroke={INK}
          tick={{ fontSize: 7.5, fill: INK, fontFamily: FONT }}
        />
        <ReferenceArea
          x1={X_DOMAIN[0]}
          x2={X_DOMAIN[1]}
          y1={p.domain[0]}
          y2={p.domain[1]}
          fill="none"
          fillOpacity={0}
          stroke={INK}
          strokeWidth={1}
          ifOverflow="visible"
        />
        <Line data={lineData} dataKey="y" stroke={LINE_COLOR} strokeWidth={1.1} dot={false} isAnimationActive={false} />
        <Scatter data={markData} dataKey="y" shape={(s: any) => <XMark {...s} />} isAnimationActive={false} />
      </ComposedChart>
      <div
        style={{
          position: 'absolute', left: AXIS_W, width: PLOT_W, top: 12, lineHeight: '15px',
          textAlign: 'center', fontSize: 12, color: '#222', whiteSpace: 'nowrap',
        }}
      >
        {p.title}
      </div>
      <div
        style={{
          position: 'absolute', left: AXIS_W + 5, top: PLOT_TOP + 1.5, lineHeight: '10px',
          fontSize: 8.5, color: '#333', whiteSpace: 'nowrap',
        }}
      >
        {`Signal-to-noise ratio=${p.snr}`}
      </div>
      <div
        style={{
          position: 'absolute', left: AXIS_W, width: PLOT_W, top: PLOT_TOP + PLOT_H + 19, lineHeight: '13px',
          textAlign: 'center', fontSize: 10.5, color: '#222', whiteSpace: 'nowrap',
        }}
      >
        Training Step (100B tokens)
      </div>
      <div
        style={{
          position: 'absolute', left: 15, top: PLOT_TOP + PLOT_H / 2, lineHeight: '13px',
          fontSize: 10.5, color: '#222', whiteSpace: 'nowrap',
          transform: 'translate(-50%, -50%) rotate(-90deg)',
        }}
      >
        Primary Metric
      </div>
    </div>
  );
}

const HIGHLIGHT_BOXES = [
  { name: 'TriviaQA', left: -1, top: -1, width: 230, height: 208 },
  { name: 'Minerva MATH', left: 1137, top: 580, width: 235, height: 203 },
  { name: 'BoolQ', left: 453, top: 773, width: 226, height: 204 },
];

export default function App() {
  return (
    <div
      style={{
        position: 'absolute', left: 0, top: 0, width: 1359, height: 977, overflow: 'hidden',
        background: BG, fontFamily: FONT,
      }}
    >
      {PANELS.map((p, i) => (
        <Panel key={p.title} p={p} index={i} />
      ))}
      {HIGHLIGHT_BOXES.filter((b) => HIGHLIGHTED.includes(b.name)).map((b) => (
        <div
          key={b.name}
          style={{
            position: 'absolute', left: b.left, top: b.top, width: b.width, height: b.height,
            boxSizing: 'border-box', border: '5px solid #ee5a9c', borderRadius: 8,
          }}
        />
      ))}
    </div>
  );
}
